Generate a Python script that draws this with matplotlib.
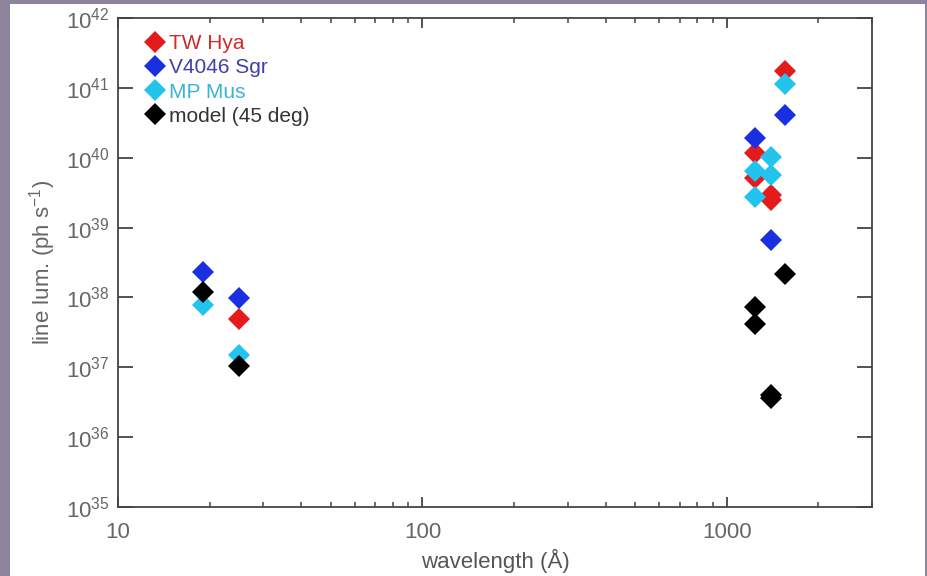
import numpy as np
import matplotlib.pyplot as plt
from matplotlib.ticker import FixedLocator, NullLocator, FuncFormatter, LogLocator
from matplotlib.patches import Rectangle

plt.rcParams['font.family'] = ['Liberation Sans', 'DejaVu Sans']
plt.rcParams['mathtext.fontset'] = 'custom'
plt.rcParams['mathtext.rm'] = 'Liberation Sans'
plt.rcParams['mathtext.default'] = 'regular'

# TW Hya
tw_x = [25, 1240, 1240, 1400, 1400, 1549]
tw_y = [4.9e37, 1.17e40, 5.1e39, 2.9e39, 2.5e39, 1.74e41]
# V4046 Sgr
v4_x = [19, 25, 1240, 1400, 1549]
v4_y = [2.3e38, 9.9e37, 1.9e40, 6.6e38, 4.1e40]
# MP Mus
mp_x = [19, 25, 1240, 1240, 1400, 1400, 1549]
mp_y = [7.8e37, 1.5e37, 6.5e39, 2.75e39, 1.03e40, 5.7e39, 1.14e41]
# model (45 deg)
mod_x = [19, 25, 1240, 1240, 1400, 1400, 1549]
mod_y = [1.2e38, 1.05e37, 7.3e37, 4.1e37, 3.6e36, 4.0e36, 2.2e38]

series = [
    ('TW Hya', tw_x, tw_y, '#e41a1c', '#d02a2a'),
    ('V4046 Sgr', v4_x, v4_y, '#1a30e0', '#4040a8'),
    ('MP Mus', mp_x, mp_y, '#22c4ee', '#38b4d4'),
    ('model (45 deg)', mod_x, mod_y, '#000000', '#333333'),
]

fig = plt.figure(figsize=(9.28, 5.76), dpi=100, facecolor='#8e839c')
fig.patches.append(Rectangle((10/928, 0), 915/928, 1 - 4/576, transform=fig.transFigure,
                             facecolor='white', edgecolor='none', zorder=-10))
ax = fig.add_axes([118/928, 1 - 507/576, 754/928, 489/576])

for name, x, y, c, tc in series:
    ax.plot(x, y, 'D', color=c, markersize=10.8, markeredgewidth=0, label=name)

ax.set_xscale('log')
ax.set_yscale('log')
ax.set_xlim(10, 3000)
ax.set_ylim(1e35, 1e42)

ax.yaxis.set_major_locator(FixedLocator([10.0**k for k in range(35, 43)]))
ax.yaxis.set_minor_locator(NullLocator())
ax.yaxis.set_major_formatter(FuncFormatter(lambda v, p: r'$10^{%d}$' % round(np.log10(v))))
ax.xaxis.set_major_locator(FixedLocator([10, 100, 1000]))
ax.xaxis.set_minor_locator(LogLocator(base=10, subs=np.arange(2, 10)))
ax.xaxis.set_major_formatter(FuncFormatter(lambda v, p: '%d' % v))
ax.xaxis.set_minor_formatter(FuncFormatter(lambda v, p: ''))

gray = '#666666'
for s in ax.spines.values():
    s.set_color('#444444')
    s.set_linewidth(1.3)
ax.tick_params(axis='both', which='both', direction='in', top=True, right=True,
               color='#444444', labelcolor=gray, labelsize=16)
ax.tick_params(axis='y', which='major', length=10.5, width=1.3, pad=6)
ax.tick_params(axis='x', which='major', length=7, width=1.3, pad=11)
ax.tick_params(axis='x', which='minor', length=3.5, width=1.1)

ax.set_xlabel('wavelength (Å)', fontsize=16, color='#555555', labelpad=4)
ax.set_ylabel(r'line lum. (ph s$^{-1}$)', fontsize=16, color=gray, labelpad=6)

leg = ax.legend(loc='upper left', frameon=False, fontsize=15, handletextpad=0.1,
                handlelength=1.2, labelspacing=0.25, borderaxespad=0,
                borderpad=0, bbox_to_anchor=(0.032, 0.967))
for t, (_, _, _, _, tc) in zip(leg.get_texts(), series):
    t.set_color(tc)

fig.savefig('out.png', dpi=100, facecolor=fig.get_facecolor())
